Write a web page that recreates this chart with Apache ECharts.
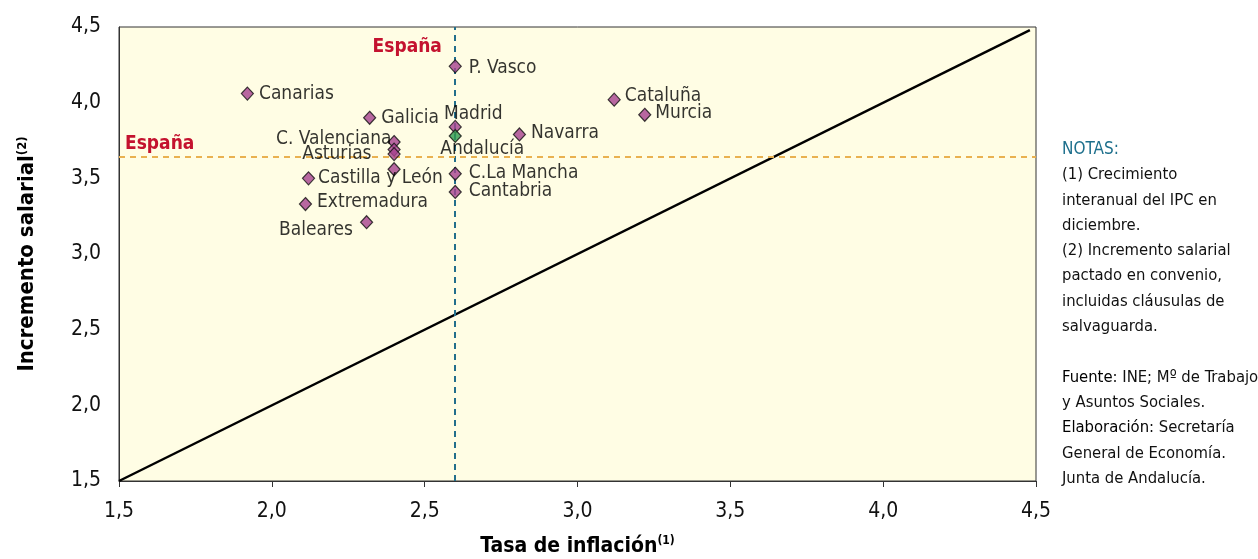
<!DOCTYPE html>
<html><head><meta charset="utf-8">
<script src="https://cdn.jsdelivr.net/npm/echarts@6/dist/echarts.min.js"></script>
<style>html,body{margin:0;padding:0;background:#fff}#c{width:1258px;height:559px}</style>
</head><body><div id="c"></div>
<script>
var regions = ['Canarias','Galicia','C. Valenciana','Asturias','Aragón','La Rioja','Castilla y León','Extremadura','Baleares','P. Vasco','Madrid','Andalucía','C.La Mancha','Cantabria','Navarra','Cataluña','Murcia'];
var inflation = [1.92,2.32,2.40,2.40,2.40,2.40,2.12,2.11,2.31,2.60,2.60,2.60,2.60,2.60,2.81,3.12,3.22];
var salary    = [4.06,3.90,3.74,3.69,3.66,3.56,3.50,3.33,3.21,4.24,3.84,3.78,3.53,3.41,3.79,4.02,3.92];
var spainInflation = 2.6;
var spainSalary = 3.64;
var refLine = [[1.5,1.5],[4.48,4.48]];
var xTicks = [1.5,2.0,2.5,3.0,3.5,4.0,4.5];
var yTicks = [1.5,2.0,2.5,3.0,3.5,4.0,4.5];

var FONT = "'Liberation Sans Narrow','DejaVu Sans Condensed','Roboto',sans-serif";
var labelPlace = {
  'Canarias':{position:'right',offset:[-1,0]},
  'Galicia':{position:'right',offset:[-1,0]},
  'C. Valenciana':{position:'left',offset:[10,-3]},
  'Asturias':{position:'left',offset:[-10,4]},
  'Aragón':{show:false},
  'La Rioja':{show:false},
  'Castilla y León':{position:'right',offset:[-3,0]},
  'Extremadura':{position:'right',offset:[-1,-2]},
  'Baleares':{position:'left',offset:[-1,8]},
  'P. Vasco':{position:'right',offset:[1,2]},
  'Madrid':{position:'top',offset:[18,10]},
  'Andalucía':{position:'bottom',offset:[27,-10]},
  'C.La Mancha':{position:'right',offset:[1,-1]},
  'Cantabria':{position:'right',offset:[1,-1]},
  'Navarra':{position:'right',offset:[-1,-1]},
  'Cataluña':{position:'right',offset:[-2,-4]},
  'Murcia':{position:'right',offset:[-2,-2]}
};

var pts = regions.map(function(n,i){
  var lp = labelPlace[n] || {position:'right'};
  return {
    name:n, value:[inflation[i], salary[i]],
    itemStyle:{color: n==='Andalucía' ? '#2d9a4c' : '#a6418f'},
    label:{show: lp.show!==false, position: lp.position, offset: lp.offset||[0,0], distance:6,
           formatter:n, color:'#000', fontFamily:FONT, fontSize:19}
  };
});

var fmt = function(v){ return v.toFixed(1).replace('.',','); };

var chart = echarts.init(document.getElementById('c'));
chart.setOption({
  animation:false,
  backgroundColor:'#ffffff',
  grid:{left:119, right:222, top:27, bottom:78, show:true, backgroundColor:'#fffde4', borderColor:'#333', borderWidth:1,
        containLabel:false, outerBoundsMode:'none'},
  xAxis:{type:'value', min:1.5, max:4.5, interval:0.5,
    axisLine:{show:true, onZero:false, lineStyle:{color:'#333'}},
    axisTick:{show:true, length:6, inside:false, lineStyle:{color:'#333'}},
    splitLine:{show:false},
    axisLabel:{formatter:fmt, fontFamily:FONT, fontSize:21, color:'#111', margin:20},
    name:'{b|Tasa de inflación}{s|(1)}', nameLocation:'middle', nameGap:54,
    nameTextStyle:{rich:{b:{fontFamily:FONT, fontWeight:'bold', fontSize:21, color:'#000', lineHeight:24},
                         s:{fontFamily:FONT, fontWeight:'bold', fontSize:12, color:'#000', verticalAlign:'top', lineHeight:12}}}
  },
  yAxis:{type:'value', min:1.5, max:4.5, interval:0.5,
    axisLine:{show:true, onZero:false, lineStyle:{color:'#333'}},
    axisTick:{show:false},
    splitLine:{show:false},
    axisLabel:{formatter:fmt, fontFamily:FONT, fontSize:21, color:'#111', margin:18},
    name:'{b|Incremento salarial}{s|(2)}', nameLocation:'middle', nameGap:80, nameRotate:90,
    nameTextStyle:{rich:{b:{fontFamily:FONT, fontWeight:'bold', fontSize:22, color:'#000'},
                         s:{fontFamily:FONT, fontWeight:'bold', fontSize:13, color:'#000', verticalAlign:'top', padding:[0,0,10,0]}}}
  },
  series:[
    {type:'line', data:refLine, symbol:'none', lineStyle:{color:'#000', width:2.5}, z:2, silent:true},
    {type:'scatter', data:pts, symbol:'diamond', symbolSize:[12,13],
     itemStyle:{borderColor:'#111', borderWidth:1.2}, z:5,
     markLine:{silent:true, symbol:'none', label:{show:false},
       data:[
         {xAxis:spainInflation, lineStyle:{color:'#236f8c', type:[6,5], width:2},
          label:{show:true, formatter:'España', position:'end', color:'#c4122f', fontWeight:'bold', fontFamily:FONT, fontSize:19, offset:[-48,20], distance:-10}},
         {yAxis:spainSalary, lineStyle:{color:'#e9b150', type:[6,5], width:2},
          label:{show:true, formatter:'España', position:'insideStartTop', color:'#c4122f', fontWeight:'bold', fontFamily:FONT, fontSize:19, distance:[6,4]}}
       ]}
    }
  ],
  graphic:[
    {type:'text', left:1062, top:137, style:{
      text:'{h|NOTAS}{hc|:}\n(1) Crecimiento\ninteranual del IPC en\ndiciembre.\n(2) Incremento salarial\npactado en convenio,\nincluidas cláusulas de\nsalvaguarda.\n\n{bb|Fuente}: INE; Mº de Trabajo\ny Asuntos Sociales.\n{bb|Elaboración}: Secretaría\nGeneral de Economía.\nJunta de Andalucía.',
      fontFamily:FONT, fontSize:16.5, fill:'#111', lineHeight:25.3,
      rich:{h:{fontFamily:FONT, fontSize:17, fill:'#1d6f8c', lineHeight:25.3},
            hc:{fontFamily:FONT, fontSize:17, fill:'#1d6f8c', lineHeight:25.3},
            bb:{fontFamily:FONT, fontSize:16.5, fill:'#000', lineHeight:25.3}}
    }}
  ]
});
</script></body></html>
